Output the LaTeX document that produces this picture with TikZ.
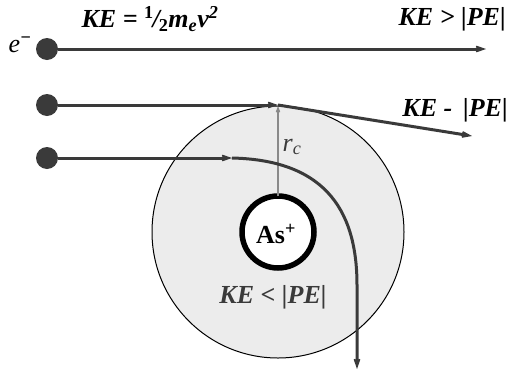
\documentclass[tikz,border=0pt]{standalone}
\usepackage{fontspec}
\setmainfont{Liberation Serif}
\usetikzlibrary{arrows.meta,positioning,calc}
\definecolor{trajgray}{HTML}{3A3A3A}
\definecolor{fieldgray}{HTML}{ECECEC}
\definecolor{rcgray}{HTML}{8A8A8A}

\begin{document}
\begin{tikzpicture}[x=1pt, y=-1pt, font=\fontsize{26}{28}\selectfont,
    electron/.style={circle, fill=trajgray, inner sep=0pt, minimum size=22pt},
    traj/.style={draw=trajgray, line width=3pt, -{Stealth[length=20pt, width=14pt, inset=13pt]}},
    lbl/.style={inner sep=0pt, font=\fontsize{26}{28}\selectfont\bfseries\itshape}]

    \useasboundingbox (0,0) rectangle (511,370);

    % Field and ion
    \node[circle, draw=black, line width=1pt, fill=fieldgray, minimum size=252pt, inner sep=0pt, outer sep=0pt] (field) at (278,232) {};
    \node[circle, draw=black, line width=5.5pt, fill=white, minimum size=72pt, inner sep=0pt, outer sep=0pt] (ion) at (278,232) {};
    \node[inner sep=0pt, font=\fontsize{26}{28}\selectfont\bfseries] (ionlbl) at (276,234) {As\textsuperscript{+}};
    \draw[rcgray, line width=1.6pt, -{Stealth[length=12pt, width=9pt, inset=8pt]}] (ion.north) -- (field.north);
    \node[lbl, font=\fontsize{26}{28}\selectfont\itshape, text=trajgray] (rc) at (292,147) {r\textsubscript{c}};

    % Electrons
    \node[electron] (e1) at (47,49) {};
    \node[electron] (e2) at (47,105) {};
    \node[electron] (e3) at (47,158) {};
    \node[lbl, left=4pt of e1, yshift=4pt, font=\fontsize{26}{28}\selectfont\itshape] (elbl) {e\textsuperscript{\textbf{−}}};

    \coordinate (out1) at (486,49);
    \coordinate (hit) at (278,105);
    \coordinate (out2) at (472,136);
    \coordinate (bend) at (232,158);
    \coordinate (out3) at (357,369);

    % Trajectories
    \draw[traj] (e1) -- (out1);
    \draw[traj] (e2) -- (hit);
    \draw[traj] (hit) -- (out2);
    \draw[traj] (e3) -- (bend);
    \draw[traj] (bend) .. controls (320,160) and (357,205) .. (357,285) -- (out3);

    % Labels
    \node[lbl] (ke1) at (150,19) {KE = \textsuperscript{\upshape 1}\kern-1pt/\kern-1pt\textsubscript{\upshape 2}m\textsubscript{e}v\textsuperscript{2}};
    \node[lbl, anchor=east] (ke2) at (506,19) {KE > |PE|};
    \node[lbl, anchor=east] (ke3) at (508,110) {KE - \,|PE|};
    \node[lbl, text=trajgray] (ke4) at (273,297) {KE < |PE|};

\end{tikzpicture}
\end{document}
